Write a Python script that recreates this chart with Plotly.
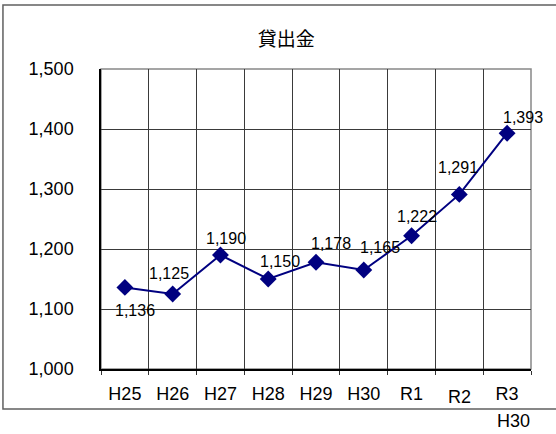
import plotly.graph_objects as go

# 貸出金 by fiscal year
years = ["H25", "H26", "H27", "H28", "H29", "H30", "R1", "R2", "R3"]
loans = [1136, 1125, 1190, 1150, 1178, 1165, 1222, 1291, 1393]

y_ticks = [1000, 1100, 1200, 1300, 1400, 1500]

# label offsets (px) from each marker: (dx, dy up)
label_offsets = [(10, -23), (-4, 21), (6, 17), (12, 18), (15, 19),
                 (16, 23), (5, 19), (-1, 27), (16, 16)]

NAVY = "#000080"
GRID = "#3a3a3a"
NUM_FONT = "Liberation Sans, Arial, sans-serif"
JP_FONT = "Noto Sans CJK JP, sans-serif"

fig = go.Figure()
fig.add_trace(go.Scatter(
    x=years, y=loans, mode="lines+markers",
    line=dict(color=NAVY, width=2),
    marker=dict(symbol="diamond", size=13, color=NAVY),
    hoverinfo="skip", showlegend=False,
))

# data labels
for yr, v, (dx, dy) in zip(years, loans, label_offsets):
    fig.add_annotation(x=yr, y=v, text=f"{v:,}", showarrow=False,
                       xshift=dx, yshift=dy,
                       font=dict(family=NUM_FONT, size=16, color="#000"))

# category labels (R2 sits a little lower than the others)
tick_text = ["" if t == "R2" else t for t in years]
fig.add_annotation(x="R2", y=0, yref="paper", text="R2", showarrow=False,
                   yanchor="middle", yshift=-28,
                   font=dict(family=NUM_FONT, size=18, color="#000"))
fig.add_annotation(x=0.96, y=-0.173, xref="paper", yref="paper", text="H30",
                   showarrow=False, xanchor="center", yanchor="middle",
                   font=dict(family=NUM_FONT, size=18, color="#000"))

# outer frame
fig.add_shape(type="rect", xref="paper", yref="paper",
              x0=-0.228, x1=1.2, y0=-0.133, y1=1.213,
              line=dict(color="#606060", width=1.5), layer="below")
# plot area border (top/right)
fig.add_shape(type="rect", xref="paper", yref="paper",
              x0=0, x1=1, y0=0, y1=1,
              line=dict(color="#888888", width=1.5), layer="below")

fig.update_layout(
    width=556, height=434,
    margin=dict(l=101, r=25, t=69, b=65),
    paper_bgcolor="white", plot_bgcolor="white",
    title=dict(text="貸出金", x=0.515, xanchor="center", y=0.91, yanchor="middle",
               font=dict(family=JP_FONT, size=19, color="#000")),
)

fig.update_xaxes(
    type="category", categoryorder="array", categoryarray=years,
    range=[-0.5, len(years) - 0.5],
    tickmode="array", tickvals=years, ticktext=tick_text,
    tickson="boundaries", ticks="outside", ticklen=4, tickcolor="#333",
    showgrid=True, gridcolor=GRID, gridwidth=1,
    showline=True, linecolor="#000", linewidth=1.5,
    ticklabelstandoff=8,
    tickfont=dict(family=NUM_FONT, size=18, color="#000"),
    fixedrange=True,
)
fig.update_yaxes(
    range=[1000, 1500], tickmode="array", tickvals=y_ticks,
    tickformat=",d",
    showgrid=True, gridcolor=GRID, gridwidth=1,
    showline=True, linecolor="#000", linewidth=1.5,
    zeroline=False, ticks="", ticklabelstandoff=22,
    tickfont=dict(family=NUM_FONT, size=18, color="#000"),
    fixedrange=True,
)

fig.write_html("out.html")
